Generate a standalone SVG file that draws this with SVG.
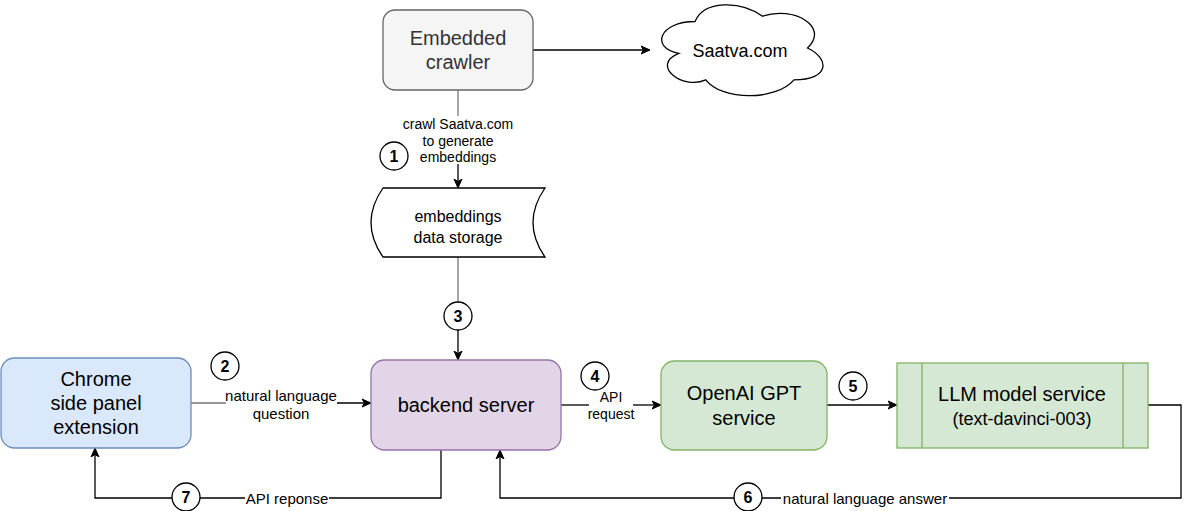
<svg xmlns="http://www.w3.org/2000/svg" width="1189" height="511" viewBox="0 0 1189 511">
<style>
text{font-family:"Liberation Sans",Arial,Helvetica,sans-serif;fill:#000;text-anchor:middle;dominant-baseline:central}
.n{font-size:20px}
.s{font-size:18px}
.m{font-size:16px}
.l{font-size:15px}
.k{font-size:14px}
.num{font-size:16px;font-weight:bold}
.e{fill:none;stroke:#000;stroke-width:1.3}
.g{fill:none;stroke:#777;stroke-width:1.3}
.c{fill:#fff;stroke:#000;stroke-width:1.3}
</style>
<defs>
<marker id="a" markerWidth="10" markerHeight="10" refX="8" refY="5" orient="auto" markerUnits="userSpaceOnUse">
<path d="M0,1 L9,5 L0,9 L2.5,5 Z" fill="#000" stroke="#000" stroke-width="1"/>
</marker>
</defs>
<rect width="1189" height="511" fill="#fff"/>
<g id="connectors">
<path class="e" d="M533,50 H649" marker-end="url(#a)"/>
<path class="g" d="M458,90 V116"/>
<path class="e" d="M458,164 V187" marker-end="url(#a)"/>
<path class="g" d="M458,257 V302"/>
<path class="e" d="M458,330 V359" marker-end="url(#a)"/>
<path class="g" d="M191,403 H226"/>
<path class="e" d="M337,403 H370" marker-end="url(#a)"/>
<path class="e" d="M561,405 H589"/>
<path class="e" d="M633,405 H660" marker-end="url(#a)"/>
<path class="e" d="M827,405 H896" marker-end="url(#a)"/>
<path class="e" d="M1148,405 H1181 V498 H949"/>
<path class="e" d="M781,498 H500 V451" marker-end="url(#a)"/>
<path class="e" d="M441,450 V498 H329"/>
<path class="e" d="M245,498 H95 V449" marker-end="url(#a)"/>
<text class="k" x="458" y="124">crawl Saatva.com</text>
<text class="k" x="458" y="141">to generate</text>
<text class="k" x="458" y="157">embeddings</text>
<text class="l" x="281" y="395">natural language</text>
<text class="l" x="281" y="413">question</text>
<text class="k" x="611" y="397">API</text>
<text class="k" x="611" y="414">request</text>
<text class="l" x="865" y="498">natural language answer</text>
<text class="l" x="287" y="498">API reponse</text>
<circle class="c" cx="394" cy="156" r="14"/><text class="num" x="394" y="156">1</text>
<circle class="c" cx="225" cy="366" r="14"/><text class="num" x="225" y="366">2</text>
<circle class="c" cx="458" cy="316" r="14"/><text class="num" x="458" y="316">3</text>
<circle class="c" cx="595" cy="376" r="14"/><text class="num" x="595" y="376">4</text>
<circle class="c" cx="853" cy="386" r="14"/><text class="num" x="853" y="386">5</text>
<circle class="c" cx="748" cy="497" r="14"/><text class="num" x="748" y="497">6</text>
<circle class="c" cx="186" cy="497" r="14"/><text class="num" x="186" y="497">7</text>
</g>
<g id="crawler">
<rect x="383" y="10" width="150" height="80" rx="12" fill="#f5f5f5" stroke="#666" stroke-width="1.3"/>
<text class="n" x="458" y="38" style="fill:#333">Embedded</text>
<text class="n" x="458" y="62" style="fill:#333">crawler</text>
</g>
<g id="saatva">
<path d="M695,21.5 C659,21.5 650,48 678.8,53.3 C650,65 682.4,90.4 705.8,79.8 C722,101 776,101 794,79.8 C830,79.8 830,58.6 807.5,48 C830,26.8 794,5.6 762.5,16.2 C740,0.3 704,0.3 695,21.5 Z" fill="#fff" stroke="#000" stroke-width="1.3"/>
<text class="s" x="740" y="51">Saatva.com</text>
</g>
<g id="storage">
<path d="M383,188 H545 Q521,222.5 545,257 H383 Q359,222.5 383,188 Z" fill="#fff" stroke="#000" stroke-width="1.3"/>
<text class="m" x="458" y="216">embeddings</text>
<text class="m" x="458" y="237">data storage</text>
</g>
<g id="chrome">
<rect x="1" y="358" width="190" height="90" rx="13.5" fill="#dae8fc" stroke="#6c8ebf" stroke-width="1.3"/>
<text class="n" x="96" y="379">Chrome</text>
<text class="n" x="96" y="403">side panel</text>
<text class="n" x="96" y="427">extension</text>
</g>
<g id="backend">
<rect x="371" y="360" width="190" height="90" rx="13.5" fill="#e1d5e7" stroke="#9673a6" stroke-width="1.3"/>
<text class="n" x="466" y="405">backend server</text>
</g>
<g id="openai">
<rect x="661" y="361" width="166" height="89" rx="13.5" fill="#d5e8d4" stroke="#82b366" stroke-width="1.3"/>
<text class="n" x="744" y="393">OpenAI GPT</text>
<text class="n" x="744" y="418">service</text>
</g>
<g id="llm">
<rect x="897" y="363" width="251" height="85" fill="#d5e8d4" stroke="#82b366" stroke-width="1.3"/>
<path d="M922,363 V448 M1123,363 V448" stroke="#82b366" stroke-width="1.3" fill="none"/>
<text class="n" x="1022" y="394">LLM model service</text>
<text class="s" x="1022" y="419">(text-davinci-003)</text>
</g>
</svg>
